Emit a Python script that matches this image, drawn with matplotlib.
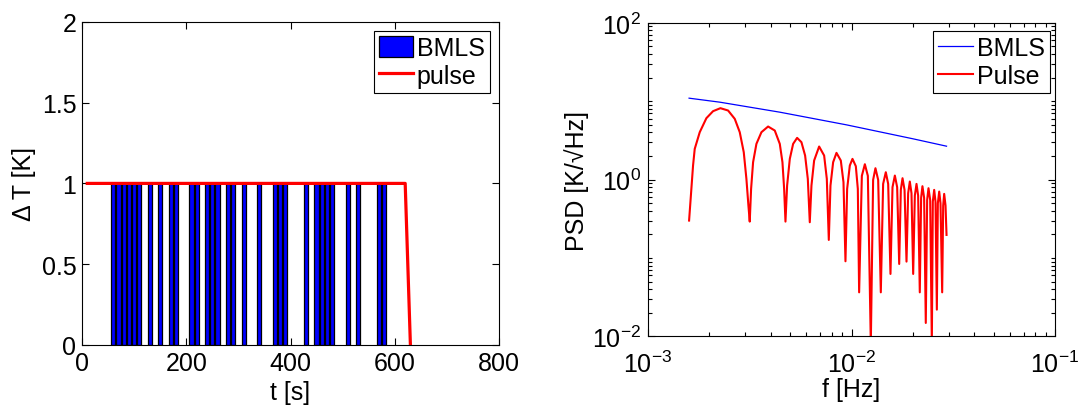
import matplotlib
matplotlib.use("Agg")
import matplotlib.pyplot as plt
from matplotlib.ticker import LogLocator, NullFormatter, FixedLocator

plt.rcParams['font.family'] = ['Liberation Sans', 'DejaVu Sans']
plt.rcParams['mathtext.fontset'] = 'custom'
plt.rcParams['mathtext.rm'] = 'Liberation Sans'
plt.rcParams['mathtext.it'] = 'Liberation Sans:italic'
plt.rcParams['mathtext.bf'] = 'Liberation Sans:bold'

# ---------------- data: left panel ----------------
bmls_t = [60, 70, 80, 90, 100, 110, 130, 150, 170, 180, 210, 220, 240, 250, 260,
          280, 290, 310, 340, 370, 380, 390, 430, 450, 460, 470, 480, 510, 530, 570, 580]
bmls_val = [1] * len(bmls_t)
pulse_t = [10, 620, 630]
pulse_val = [1, 1, 0]

# ---------------- data: right panel ----------------
bmls_f = [1.592e-3, 2.252e-3, 4.442e-3, 9.447e-3, 2.009e-2, 2.930e-2]
bmls_psd = [10.94, 9.73, 7.25, 4.995, 3.311, 2.668]

pulse_f = [1.592e-3, 1.665e-3, 1.697e-3, 1.796e-3, 1.936e-3, 2.088e-3, 2.269e-3, 2.475e-3,
           2.669e-3, 2.824e-3, 2.955e-3, 3.045e-3, 3.115e-3, 3.162e-3,
           3.211e-3, 3.284e-3, 3.410e-3, 3.609e-3, 3.892e-3, 4.197e-3, 4.442e-3, 4.578e-3,
           4.666e-3, 4.737e-3,
           4.826e-3, 4.975e-3, 5.166e-3, 5.404e-3, 5.675e-3, 5.916e-3, 6.099e-3, 6.237e-3,
           6.356e-3, 6.551e-3, 6.933e-3, 7.337e-3, 7.562e-3, 7.734e-3,
           7.882e-3, 8.123e-3, 8.436e-3, 8.860e-3, 9.131e-3, 9.339e-3,
           9.517e-3, 9.809e-3, 1.011e-2, 1.050e-2, 1.074e-2, 1.090e-2,
           1.124e-2, 1.163e-2, 1.203e-2, 1.244e-2,
           1.277e-2, 1.311e-2, 1.352e-2, 1.393e-2,
           1.430e-2, 1.474e-2, 1.514e-2, 1.554e-2,
           1.590e-2, 1.633e-2, 1.676e-2, 1.715e-2,
           1.747e-2, 1.781e-2, 1.822e-2, 1.863e-2,
           1.898e-2, 1.934e-2, 1.971e-2, 2.009e-2,
           2.047e-2, 2.086e-2, 2.125e-2, 2.165e-2,
           2.198e-2, 2.231e-2, 2.274e-2, 2.317e-2,
           2.353e-2, 2.389e-2, 2.435e-2, 2.481e-2,
           2.509e-2, 2.548e-2, 2.586e-2, 2.626e-2,
           2.656e-2, 2.697e-2, 2.737e-2, 2.789e-2,
           2.821e-2, 2.853e-2, 2.897e-2, 2.930e-2]
pulse_psd = [0.300, 1.511, 2.466, 4.026, 6.076, 7.465, 8.154, 7.613,
             5.959, 4.026, 2.236, 1.021, 0.466, 0.291,
             0.761, 1.666, 2.857, 4.026, 4.757, 4.229, 2.857, 1.666,
             0.761, 0.291,
             0.839, 1.838, 2.857, 3.408, 3.001, 2.027, 1.021, 0.2855,
             0.839, 1.750, 2.642, 2.027, 1.021, 0.1698,
             0.839, 1.666, 2.193, 1.750, 0.926, 0.0907,
             0.761, 1.511, 1.838, 1.481, 0.761, 0.0364,
             1.115, 1.571, 1.115, 0.008,
             0.991, 1.397, 0.991, 0.0364,
             0.881, 1.242, 0.881, 0.0625,
             0.799, 1.126, 0.799, 0.0838,
             0.739, 1.041, 0.739, 0.0898,
             0.670, 0.944, 0.670, 0.0625,
             0.625, 0.881, 0.625, 0.0364,
             0.584, 0.823, 0.584, 0.0148,
             0.550, 0.776, 0.550, 0.008,
             0.524, 0.739, 0.524, 0.0219,
             0.499, 0.703, 0.499, 0.0364,
             0.466, 0.657, 0.466, 0.1967]

FS = 18

fig = plt.figure(figsize=(10.78, 4.06), dpi=100)

# ---------------- left panel ----------------
ax1 = fig.add_axes([0.0761, 0.1478, 0.3868, 0.796])
h_bar = ax1.bar(bmls_t, bmls_val, width=8, color='#0000ff', edgecolor='black',
                linewidth=0.9, label='BMLS', zorder=2)
h_pulse, = ax1.plot(pulse_t, pulse_val, color='#ff0000', linewidth=2.3, label='pulse',
                    zorder=3)
ax1.set_xlim(0, 800)
ax1.set_ylim(0, 2)
ax1.set_xticks([0, 200, 400, 600, 800])
ax1.set_yticks([0, 0.5, 1, 1.5, 2])
ax1.set_yticklabels(['0', '0.5', '1', '1.5', '2'])
ax1.set_xlabel('t [s]', fontsize=FS, labelpad=4)
ax1.set_ylabel('Δ T [K]', fontsize=FS, labelpad=4)
ax1.tick_params(direction='in', top=True, right=True, labelsize=FS, length=5,
                width=0.8, pad=4)
leg1 = ax1.legend([h_bar, h_pulse], ['BMLS', 'pulse'],
                  loc='upper right', bbox_to_anchor=(0.978, 0.971), borderaxespad=0,
                  fontsize=FS, frameon=True, fancybox=False, framealpha=1,
                  edgecolor='black', handlelength=1.35, handleheight=0.9,
                  handletextpad=0.15, borderpad=0.2, labelspacing=0.15)
leg1.get_frame().set_linewidth(0.8)

# ---------------- right panel ----------------
ax2 = fig.add_axes([0.6011, 0.1692, 0.3776, 0.772])
ax2.loglog(bmls_f, bmls_psd, color='#0000ff', linewidth=0.9, label='BMLS')
ax2.loglog(pulse_f, pulse_psd, color='#ff0000', linewidth=1.5, label='Pulse')
ax2.set_xlim(1e-3, 1e-1)
ax2.set_ylim(1e-2, 1e2)
ax2.xaxis.set_major_locator(FixedLocator([1e-3, 1e-2, 1e-1]))
ax2.yaxis.set_major_locator(FixedLocator([1e-2, 1e0, 1e2]))
ax2.xaxis.set_minor_locator(LogLocator(base=10, subs=range(2, 10), numticks=20))
ax2.yaxis.set_minor_locator(LogLocator(base=10, subs=range(1, 10), numticks=20))
ax2.xaxis.set_minor_formatter(NullFormatter())
ax2.yaxis.set_minor_formatter(NullFormatter())
ax2.set_xlabel('f [Hz]', fontsize=FS, labelpad=0)
ax2.set_ylabel('PSD [K/√Hz]', fontsize=FS, labelpad=2)
ax2.tick_params(which='both', direction='in', top=True, right=True, width=0.8)
ax2.tick_params(which='major', labelsize=FS, length=5)
ax2.tick_params(axis='x', which='major', pad=10)
ax2.tick_params(axis='y', which='major', pad=5)
ax2.tick_params(which='minor', length=3)
leg2 = ax2.legend(loc='upper right', bbox_to_anchor=(0.988, 0.974), borderaxespad=0,
                  fontsize=FS, frameon=True, fancybox=False, framealpha=1,
                  edgecolor='black', handlelength=1.4, handletextpad=0.15,
                  borderpad=0.2, labelspacing=0.15)
leg2.get_frame().set_linewidth(0.8)

for ax in (ax1, ax2):
    for s in ax.spines.values():
        s.set_linewidth(0.8)

fig.savefig('out.png', dpi=100, facecolor='white')
